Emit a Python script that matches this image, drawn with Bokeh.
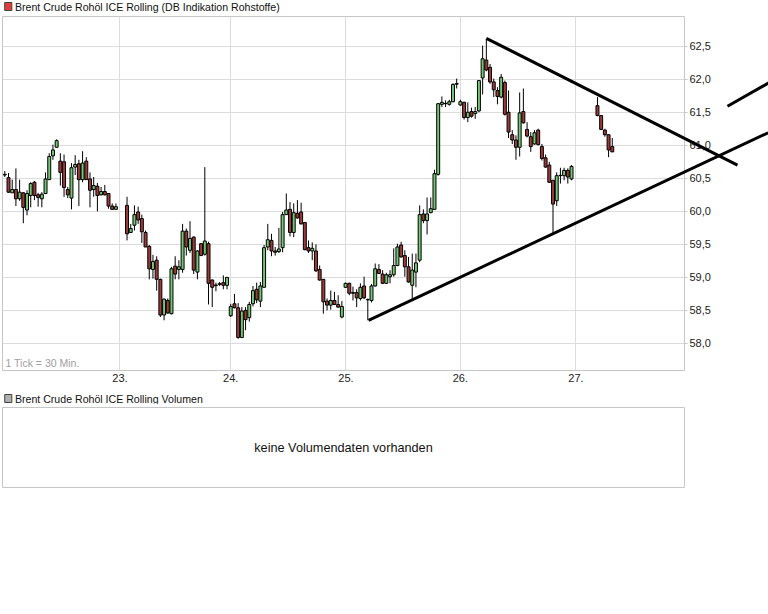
from bokeh.plotting import figure
from bokeh.models import (Range1d, FixedTicker, CustomJSTickFormatter,
                          Label, ColumnDataSource)
from bokeh.layouts import column
from bokeh.embed import file_html
from bokeh.resources import INLINE
from bokeh.core.properties import value

FONT = "Liberation Sans"

# ---------------- data (30-minute candles, x = tick slot) ----------------
slots = list(range(0, 31)) + list(range(33, 154)) + list(range(160, 165))

opens = [60.56, 60.51, 60.28, 60.33, 60.19, 60.28, 60.02, 60.24, 60.44, 60.25,
         60.19, 60.27, 60.48, 60.84, 60.97, 60.76, 60.75, 60.33, 60.20, 60.67,
         60.72, 60.48, 60.76, 60.49, 60.33, 60.38, 60.25, 60.30, 60.27, 60.08,
         60.03,
         60.09, 59.68, 59.79, 59.99, 59.89, 59.68, 59.47, 59.12, 59.26, 58.97,
         58.43, 58.65, 58.45, 59.17, 59.12, 59.12, 59.70, 59.41, 59.61, 59.08,
         59.51, 59.35, 59.51, 58.96, 58.885, 58.905, 58.92, 58.88, 58.42, 58.60,
         58.54, 58.09, 58.50, 58.39, 58.60, 58.82, 58.64, 58.85, 59.46, 59.56,
         59.40, 59.39, 59.45, 59.95, 60.03, 59.68, 59.97, 59.99, 59.83, 59.45,
         59.40, 59.40, 59.12, 58.97, 58.64, 58.58, 58.65, 58.59, 58.40, 58.85,
         58.91, 58.77, 58.77, 58.68, 58.87, 58.665, 58.65, 58.87, 59.12, 59.05,
         58.91, 59.01, 59.04, 59.18, 59.49, 59.33, 59.16, 58.88, 59.08, 59.26,
         59.96, 59.86, 59.98, 60.03, 60.56, 61.62, 61.635, 61.62, 61.66, 61.925,
         61.61, 61.65, 61.42, 61.51, 61.48, 61.52, 62.02, 62.29, 62.18, 61.96,
         61.83, 61.73, 61.95, 61.50, 61.16, 61.08, 60.97, 61.51, 61.24, 61.13,
         61.02, 61.23, 60.98, 60.81, 60.70, 60.47, 60.16, 60.545, 60.54, 60.62,
         60.49,
         61.60, 61.45, 61.23, 61.16, 60.98]

highs = [60.61, 60.58, 60.48, 60.65, 60.48, 60.29, 60.32, 60.44, 60.46, 60.28,
         60.29, 60.59, 60.88, 61.01, 61.09, 60.88, 60.86, 60.37, 60.73, 60.85,
         60.78, 60.91, 60.82, 60.59, 60.52, 60.43, 60.37, 60.40, 60.27, 60.12,
         60.12,
         60.22, 59.81, 60.09, 60.07, 59.95, 59.71, 59.49, 59.34, 59.32, 58.98,
         58.68, 58.68, 59.16, 59.32, 59.26, 59.81, 59.74, 59.85, 59.62, 59.41,
         59.52, 60.67, 59.54, 58.97, 58.92, 58.93, 59.03, 59.00, 58.60, 58.75,
         58.61, 58.55, 58.55, 58.63, 58.87, 58.92, 58.93, 59.49, 59.81, 59.66,
         59.46, 59.75, 59.99, 60.27, 60.14, 60.12, 60.17, 60.13, 59.84, 59.56,
         59.53, 59.50, 59.18, 58.97, 58.68, 58.80, 58.78, 58.73, 58.64, 58.92,
         58.92, 58.86, 58.82, 58.91, 59.01, 58.68, 58.90, 59.21, 59.20, 59.11,
         59.07, 59.11, 59.44, 59.51, 59.54, 59.41, 59.31, 59.36, 59.36, 60.09,
         60.03, 60.21, 60.21, 60.63, 61.64, 61.74, 61.68, 61.69, 61.94, 62.01,
         61.69, 61.66, 61.65, 61.57, 61.58, 61.98, 62.51, 62.61, 62.23, 62.01,
         61.88, 62.08, 61.98, 61.83, 61.23, 61.15, 61.80, 61.86, 61.35, 61.20,
         61.23, 61.25, 61.02, 60.86, 60.75, 60.47, 60.59, 60.66, 60.66, 60.65,
         60.70,
         61.73, 61.45, 61.25, 61.16, 61.11]

lows = [60.52, 60.28, 60.28, 60.08, 60.16, 59.82, 59.94, 60.06, 60.17, 60.07,
        60.06, 60.26, 60.48, 60.78, 60.97, 60.39, 60.22, 60.20, 60.03, 60.55,
        60.08, 60.44, 60.48, 60.06, 60.22, 60.00, 60.24, 60.24, 60.04, 60.03,
        60.03,
        59.56, 59.67, 59.71, 59.81, 59.52, 59.46, 58.97, 58.98, 58.80, 58.40,
        58.35, 58.45, 58.44, 58.97, 58.97, 59.07, 59.33, 59.37, 59.05, 58.97,
        59.33, 59.33, 58.59, 58.55, 58.79, 58.87, 58.82, 58.82, 58.40, 58.53,
        58.07, 58.08, 58.20, 58.33, 58.56, 58.61, 58.55, 58.85, 59.41, 59.32,
        59.33, 59.37, 59.38, 59.95, 59.62, 59.61, 59.89, 59.80, 59.41, 59.37,
        59.26, 59.08, 58.95, 58.45, 58.50, 58.51, 58.58, 58.54, 58.38, 58.84,
        58.73, 58.65, 58.55, 58.65, 58.67, 58.35, 58.62, 58.86, 59.05, 58.90,
        58.90, 58.91, 59.01, 59.17, 59.30, 59.01, 58.92, 58.68, 58.85, 59.23,
        59.82, 59.65, 59.97, 60.03, 60.54, 61.58, 61.58, 61.60, 61.65, 61.86,
        61.60, 61.39, 61.35, 61.42, 61.40, 61.50, 61.77, 62.12, 61.93, 61.73,
        61.62, 61.71, 61.45, 61.11, 61.02, 60.78, 60.83, 61.33, 61.12, 60.90,
        61.01, 61.00, 60.77, 60.66, 60.43, 59.66, 60.08, 60.42, 60.47, 60.42,
        60.47,
        61.44, 61.23, 61.13, 60.82, 60.90]

closes = [60.55, 60.29, 60.33, 60.19, 60.29, 60.06, 60.27, 60.42, 60.24, 60.21,
          60.26, 60.49, 60.83, 60.93, 61.07, 60.59, 60.36, 60.25, 60.66, 60.71,
          60.48, 60.73, 60.48, 60.32, 60.39, 60.24, 60.30, 60.25, 60.08, 60.03,
          60.07,
          59.66, 59.74, 59.95, 59.87, 59.69, 59.46, 59.13, 59.24, 58.97, 58.43,
          58.67, 58.46, 59.13, 59.05, 59.16, 59.70, 59.46, 59.59, 59.11, 59.40,
          59.33, 59.55, 58.91, 58.85, 58.875, 58.895, 58.88, 59.00, 58.56, 58.54,
          58.09, 58.49, 58.36, 58.59, 58.80, 58.66, 58.87, 59.45, 59.57, 59.40,
          59.38, 59.43, 59.95, 60.02, 59.68, 59.98, 59.90, 59.81, 59.42, 59.40,
          59.44, 59.10, 58.96, 58.63, 58.58, 58.65, 58.59, 58.55, 58.56, 58.91,
          58.76, 58.76, 58.69, 58.85, 58.69, 58.66, 58.87, 59.13, 59.06, 58.91,
          59.04, 59.04, 59.18, 59.46, 59.31, 59.16, 58.93, 59.11, 59.22, 59.95,
          59.86, 59.96, 60.04, 60.57, 61.63, 61.65, 61.63, 61.66, 61.92, 61.935,
          61.66, 61.42, 61.50, 61.44, 61.51, 61.98, 62.31, 62.14, 61.96, 61.84,
          61.74, 62.03, 61.47, 61.20, 61.08, 60.97, 61.49, 61.34, 61.14, 60.98,
          61.19, 61.01, 60.80, 60.67, 60.44, 60.11, 60.54, 60.54, 60.62, 60.52,
          60.68,
          61.45, 61.24, 61.16, 60.93, 60.90]

day_ticks = [31.1, 61.0, 92.1, 123.0, 154.2]
day_labels = ["23.", "24.", "25.", "26.", "27."]
price_ticks = [58.0, 58.5, 59.0, 59.5, 60.0, 60.5, 61.0, 61.5, 62.0, 62.5]

# hand-drawn trend lines (slot, price)
trend_x0 = [130.0, 98.2, 195.1]
trend_y0 = [62.62, 58.35, 61.59]
trend_x1 = [197.8, 206.1, 206.7]
trend_y1 = [60.70, 61.19, 61.96]

title_main = "Brent Crude Rohöl ICE Rolling (DB Indikation Rohstoffe)"
title_vol = "Brent Crude Rohöl ICE Rolling Volumen"
tick_note = "1 Tick = 30 Min."
no_volume = "keine Volumendaten vorhanden"

X0, X1 = -0.62, 183.5
Y0, Y1 = 57.59, 62.95

# ---------------- layout sizes ----------------
W = 768
LEFT = 2
FRAME_W = 682
RIGHT = W - LEFT - FRAME_W
FRAME_H = 354
TOP = 1
BOTTOM = 22
P_H = TOP + FRAME_H + BOTTOM
PPS = FRAME_W / (X1 - X0)          # pixels per slot

GREEN = "#74c874"
RED = "#9e3a3a"
GRID = "#dcdcdc"
BORDER = "#c6c6c6"


def legend_fig(text, sq_color, h):
    f = figure(width=W, height=h, x_range=Range1d(0, W), y_range=Range1d(0, h),
               x_axis_location=None, y_axis_location=None,
               toolbar_location=None, output_backend="svg", min_border=0)
    f.grid.visible = False
    f.outline_line_color = None
    f.rect(x=[6.5], y=[h - 6], width=8, height=8, fill_color=sq_color,
           line_color="#404040", line_width=1)
    f.text(x=[14], y=[h - 6.5], text=[text], text_font=value(FONT),
           text_font_size="10.6px", text_baseline="middle", text_color="#111111")
    return f


leg1 = legend_fig(title_main, "#e23c3c", 15)

tops = [max(o, c) for o, c in zip(opens, closes)]
bottoms = [min(o, c) for o, c in zip(opens, closes)]
colors = [GREEN if c >= o else RED for o, c in zip(opens, closes)]
src = ColumnDataSource(dict(x=slots, h=highs, l=lows, top=tops,
                            bottom=bottoms, color=colors))

p = figure(frame_width=FRAME_W, frame_height=FRAME_H,
           x_range=Range1d(X0, X1), y_range=Range1d(Y0, Y1),
           x_axis_location="below", y_axis_location="right",
           toolbar_location=None, output_backend="svg",
           min_border_left=LEFT, min_border_right=RIGHT,
           min_border_top=TOP, min_border_bottom=BOTTOM)
p.outline_line_color = BORDER

p.xaxis.ticker = FixedTicker(ticks=day_ticks)
p.xaxis.major_label_overrides = dict(zip(day_ticks, day_labels))
p.xaxis.major_tick_out = 0
p.xaxis.major_tick_in = 0
p.xaxis.minor_tick_out = 0
p.xaxis.axis_line_color = None
p.xaxis.major_label_standoff = 3
p.xaxis.major_label_text_font = FONT
p.xaxis.major_label_text_font_size = "11px"
p.xaxis.major_label_text_color = "#222222"

p.yaxis.ticker = FixedTicker(ticks=price_ticks)
p.yaxis.formatter = CustomJSTickFormatter(
    code="return tick.toFixed(1).replace('.', ',');")
p.yaxis.major_tick_out = 3
p.yaxis.major_tick_in = 0
p.yaxis.minor_tick_out = 0
p.yaxis.major_tick_line_color = BORDER
p.yaxis.axis_line_color = None
p.yaxis.major_label_standoff = 2
p.yaxis.major_label_text_font = FONT
p.yaxis.major_label_text_font_size = "11px"
p.yaxis.major_label_text_color = "#222222"

p.xgrid.grid_line_color = GRID
p.ygrid.grid_line_color = GRID

p.segment(x0="x", y0="h", x1="x", y1="l", source=src,
          line_color="black", line_width=1)
p.vbar(x="x", top="top", bottom="bottom", width=0.8, source=src,
       fill_color="color", line_color="black", line_width=1)

p.add_layout(Label(x=X0, y=Y0, x_offset=3, y_offset=2, text=tick_note,
                   text_font=FONT, text_font_size="10.5px",
                   text_color="#a0a0a0", text_baseline="bottom"))

# transparent overlay so the trend lines can run over the price scale
t = figure(frame_width=W - LEFT, frame_height=FRAME_H,
           x_range=Range1d(X0, X0 + (W - LEFT) / PPS), y_range=Range1d(Y0, Y1),
           x_axis_location=None, y_axis_location=None,
           toolbar_location=None, output_backend="svg",
           min_border_left=LEFT, min_border_right=0,
           min_border_top=TOP, min_border_bottom=BOTTOM,
           margin=(-P_H, 0, 0, 0))
t.grid.visible = False
t.outline_line_color = None
t.background_fill_color = None
t.border_fill_color = None
t.segment(x0=trend_x0, y0=trend_y0, x1=trend_x1, y1=trend_y1,
          line_color="black", line_width=3)

leg2 = legend_fig(title_vol, "#b0b0b0", 12)

v = figure(frame_width=FRAME_W, frame_height=80,
           x_range=Range1d(0, 1), y_range=Range1d(0, 1),
           x_axis_location=None, y_axis_location=None,
           toolbar_location=None, output_backend="svg",
           min_border_left=LEFT, min_border_right=RIGHT,
           min_border_top=3, min_border_bottom=2)
v.grid.visible = False
v.outline_line_color = BORDER
v.text(x=[0.5], y=[0.5], text=[no_volume], text_font=value(FONT),
       text_font_size="12.7px", text_align="center", text_baseline="middle",
       text_color="#111111")

layout = column(leg1, p, t, leg2, v, spacing=0)

open("out.html", "w").write(file_html(layout, INLINE))
